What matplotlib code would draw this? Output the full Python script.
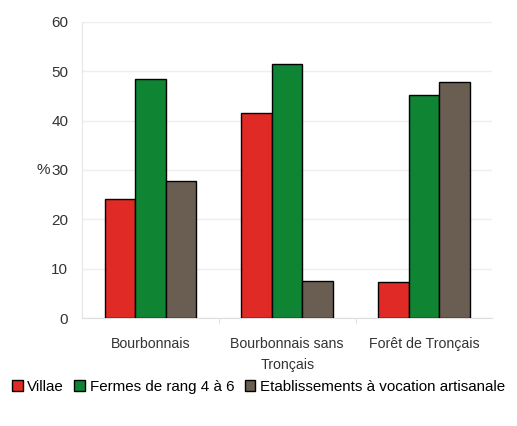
import numpy as np
import matplotlib.pyplot as plt

plt.rcParams['font.family'] = ['Liberation Sans', 'DejaVu Sans']

categories = ["Bourbonnais", "Bourbonnais sans\nTronçais", "Forêt de Tronçais"]
series = ["Villae", "Fermes de rang 4 à 6", "Etablissements à vocation artisanale"]
villae = [24.1, 41.5, 7.2]
fermes = [48.4, 51.5, 45.2]
artisanat = [27.8, 7.5, 47.9]
colors = ["#E02A25", "#0F8533", "#6A5E52"]

fig = plt.figure(figsize=(5.17, 4.26), dpi=100)
ax = fig.add_axes([0.159, 0.2535, 0.793, 0.695])

x = np.arange(len(categories))
w = 0.223
for i, (vals, lab, c) in enumerate(zip([villae, fermes, artisanat], series, colors)):
    ax.bar(x + (i - 1) * w, vals, w, color=c, edgecolor="black", linewidth=1.0,
           label=lab, zorder=3)

ax.set_xlim(-0.5, 2.5)
ax.set_ylim(0, 60)
ax.set_yticks(range(0, 61, 10))
ax.set_xticks(x)
ax.set_xticklabels(categories, fontsize=10.2, color="#333333", linespacing=1.55,
                   va="top")
ax.set_xticks([0.5, 1.5], minor=True)
ax.tick_params(axis="x", which="major", length=0, pad=14)
ax.tick_params(axis="x", which="minor", length=4, color="#dddddd")
ax.tick_params(axis="y", length=0, labelsize=11, colors="#333333", pad=10)
ax.grid(axis="y", color="#eeeeee", linewidth=1, zorder=0)
for s in ["top", "right"]:
    ax.spines[s].set_visible(False)
ax.spines["left"].set_color("#e6e6e6")
ax.spines["bottom"].set_color("#dddddd")

fig.text(0.070, ax.transData.transform((0, 30))[1] / fig.bbox.height, "%",
         fontsize=11, color="#333333", va="center")

fig.legend(loc="center", bbox_to_anchor=(0.5, 0.092), ncol=3, frameon=False,
           fontsize=10.9, handlelength=0.7, handleheight=0.7, handletextpad=0.3,
           columnspacing=0.7)

fig.savefig("out.png", dpi=100)
